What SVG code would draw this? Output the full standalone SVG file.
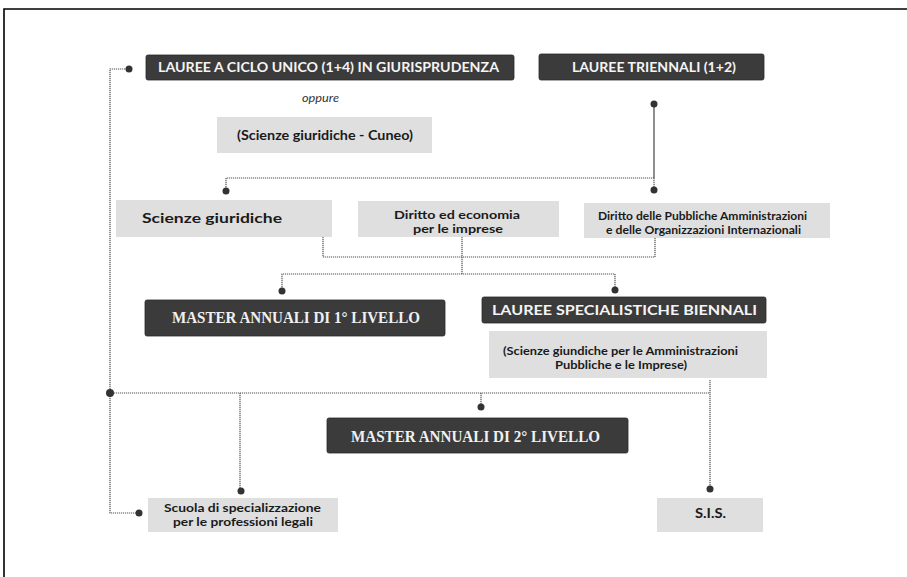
<svg xmlns="http://www.w3.org/2000/svg" width="907" height="577" viewBox="0 0 907 577">
<style>
.dark{fill:#3b3b3b;stroke:#2a2a2a;stroke-width:0.8}
.light{fill:#dfdfdf}
.wt{font-family:"Lato","Open Sans","Liberation Sans",sans-serif;font-weight:bold;fill:#f4f4f4;font-size:14px}
.bt{font-family:"Lato","Open Sans","Liberation Sans",sans-serif;font-weight:bold;fill:#1a1a1a;font-size:13px}
.bt2{font-family:"Lato","Open Sans","Liberation Sans",sans-serif;font-weight:bold;fill:#1a1a1a;font-size:11.5px}
.st{font-family:"Liberation Serif","DejaVu Serif",serif;font-weight:bold;fill:#f0f0f0;font-size:16px}
.it{font-family:"Lato","Open Sans","Liberation Sans",sans-serif;font-style:italic;fill:#333;font-size:11px}
.ln{fill:none;stroke:#555;stroke-width:1.2;stroke-dasharray:1.2 0.8}
.sl{fill:none;stroke:#444;stroke-width:1.2}
.dot{fill:#333}
</style>
<rect x="0" y="0" width="907" height="577" fill="#ffffff"/>
<g id="frame"><path d="M4,577 V9 H907" fill="none" stroke="#000" stroke-width="1.6"/></g>

<g id="connectors">
  <path class="ln" d="M129,69 H110 V513 H139"/>
  <path class="sl" d="M654,104 V178"/>
  <path class="ln" d="M654,178 H226 V191"/>
  <path class="ln" d="M654,178 V190"/>
  <path class="ln" d="M323,237 V257 H655 V238"/>
  <path class="ln" d="M462,237 V274"/>
  <path class="ln" d="M282,291 V274 H615 V290"/>
  <path class="ln" d="M110,393 H710"/>
  <path class="ln" d="M710,380 V489"/>
  <path class="ln" d="M240,393 V491"/>
  <path class="ln" d="M481,393 V407"/>
  <circle class="dot" cx="129" cy="69" r="3.5"/>
  <circle class="dot" cx="654" cy="104" r="3.5"/>
  <circle class="dot" cx="226" cy="191" r="3.5"/>
  <circle class="dot" cx="654" cy="190" r="3.5"/>
  <circle class="dot" cx="282" cy="291" r="3.5"/>
  <circle class="dot" cx="615" cy="290" r="3.5"/>
  <circle class="dot" cx="110" cy="393" r="4"/>
  <circle class="dot" cx="481" cy="407" r="3.5"/>
  <circle class="dot" cx="241" cy="491" r="3.5"/>
  <circle class="dot" cx="710" cy="489" r="3.5"/>
  <circle class="dot" cx="139" cy="513" r="3.5"/>
</g>

<g id="ciclo-unico">
  <rect class="dark" x="146" y="55" width="368" height="25" rx="2"/>
  <text class="wt" x="158" y="72" textLength="341" lengthAdjust="spacingAndGlyphs">LAUREE A CICLO UNICO (1+4) IN GIURISPRUDENZA</text>
</g>
<g id="oppure">
  <text class="it" x="302" y="102" textLength="37" lengthAdjust="spacingAndGlyphs">oppure</text>
</g>
<g id="cuneo">
  <rect class="light" x="217" y="117" width="215" height="36"/>
  <text class="bt" x="237" y="140" font-size="14" textLength="176" lengthAdjust="spacingAndGlyphs">(Scienze giuridiche - Cuneo)</text>
</g>
<g id="triennali">
  <rect class="dark" x="539" y="54" width="225" height="26" rx="2"/>
  <text class="wt" x="572" y="72" textLength="164" lengthAdjust="spacingAndGlyphs">LAUREE TRIENNALI (1+2)</text>
</g>
<g id="scienze-giuridiche">
  <rect class="light" x="116" y="200" width="216" height="37"/>
  <text class="bt" x="142" y="223" font-size="14" textLength="140" lengthAdjust="spacingAndGlyphs">Scienze giuridiche</text>
</g>
<g id="diritto-economia">
  <rect class="light" x="358" y="201" width="201" height="36"/>
  <text class="bt2" x="394" y="219" textLength="126" lengthAdjust="spacingAndGlyphs">Diritto ed economia</text>
  <text class="bt2" x="413" y="233" textLength="90" lengthAdjust="spacingAndGlyphs">per le imprese</text>
</g>
<g id="diritto-pa">
  <rect class="light" x="584" y="203" width="246" height="35"/>
  <text class="bt2" x="598" y="220" textLength="209" lengthAdjust="spacingAndGlyphs">Diritto delle Pubbliche Amministrazioni</text>
  <text class="bt2" x="606" y="234" textLength="195" lengthAdjust="spacingAndGlyphs">e delle Organizzazioni Internazionali</text>
</g>
<g id="master-1">
  <rect class="dark" x="145" y="300" width="300" height="36" rx="2"/>
  <text class="st" x="172" y="323" textLength="248" lengthAdjust="spacingAndGlyphs">MASTER ANNUALI DI 1° LIVELLO</text>
</g>
<g id="specialistiche">
  <rect class="dark" x="482" y="297" width="284" height="26" rx="2"/>
  <text class="wt" x="492" y="315" textLength="265" lengthAdjust="spacingAndGlyphs">LAUREE SPECIALISTICHE BIENNALI</text>
</g>
<g id="specialistiche-sub">
  <rect class="light" x="489" y="331" width="278" height="47"/>
  <text class="bt2" x="503" y="355" textLength="235" lengthAdjust="spacingAndGlyphs">(Scienze giundiche per le Amministrazioni</text>
  <text class="bt2" x="555" y="369" textLength="132" lengthAdjust="spacingAndGlyphs">Pubbliche e le Imprese)</text>
</g>
<g id="master-2">
  <rect class="dark" x="327" y="418" width="301" height="35" rx="2"/>
  <text class="st" x="351" y="442" textLength="249" lengthAdjust="spacingAndGlyphs">MASTER ANNUALI DI 2° LIVELLO</text>
</g>
<g id="scuola">
  <rect class="light" x="148" y="498" width="190" height="34"/>
  <text class="bt2" x="164" y="512" textLength="157" lengthAdjust="spacingAndGlyphs">Scuola di specializzazione</text>
  <text class="bt2" x="173" y="526" textLength="140" lengthAdjust="spacingAndGlyphs">per le professioni legali</text>
</g>
<g id="sis">
  <rect class="light" x="657" y="498" width="106" height="34"/>
  <text class="bt" x="695" y="518" textLength="31" lengthAdjust="spacingAndGlyphs">S.I.S.</text>
</g>
</svg>
